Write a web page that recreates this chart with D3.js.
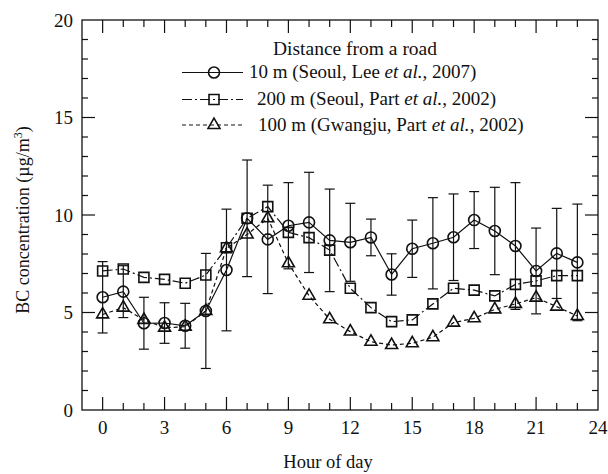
<!DOCTYPE html>
<html>
<head>
<meta charset="utf-8">
<script src="https://cdn.jsdelivr.net/npm/d3@7"></script>
<style>
  body { margin: 0; background: #fff; }
  svg { font-family: "Liberation Serif", "Times New Roman", "DejaVu Serif", serif; }
</style>
</head>
<body>
<div id="chart"></div>
<script>
// data
const hours = d3.range(0, 24);
const seoulLee = [5.78, 6.07, 4.45, 4.46, 4.32, 5.08, 7.18, 9.83, 8.75, 9.45, 9.62, 8.70,
                  8.60, 8.85, 6.95, 8.27, 8.55, 8.86, 9.74, 9.18, 8.41, 7.13, 8.03, 7.57];
const seoulLeeErr = [1.83, 1.33, 1.33, 1.04, 1.15, 2.95, 3.12, 2.99, 2.78, 2.21, 2.57, 2.63,
                     2.00, 0.94, 1.06, 1.47, 2.34, 2.22, 1.46, 2.24, 3.25, 2.20, 2.31, 2.99];
const seoulPart = [7.13, 7.23, 6.80, 6.70, 6.50, 6.92, 8.32, 9.83, 10.43, 9.11, 8.84, 8.20,
                   6.24, 5.25, 4.53, 4.62, 5.44, 6.24, 6.15, 5.85, 6.44, 6.62, 6.89, 6.89];
const gwangjuPart = [4.90, 5.25, 4.62, 4.22, 4.27, 5.08, 8.29, 9.00, 9.83, 7.52, 5.86, 4.65,
                     4.02, 3.50, 3.33, 3.42, 3.73, 4.48, 4.70, 5.16, 5.44, 5.76, 5.30, 4.82];
const xTickLabels = [0, 3, 6, 9, 12, 15, 18, 21, 24];
const yTickLabels = [0, 5, 10, 15, 20];

const width = 608, height = 474;
const svg = d3.select("#chart").append("svg")
    .attr("width", width)
    .attr("height", height);

const x = d3.scaleLinear().domain([-1, 24]).range([82, 598]);
const y = d3.scaleLinear().domain([0, 20]).range([410, 20]);

const ink = "#111";

// frame
svg.append("rect")
    .attr("x", x(-1)).attr("y", y(20))
    .attr("width", x(24) - x(-1)).attr("height", y(0) - y(20))
    .attr("fill", "none").attr("stroke", ink).attr("stroke-width", 1.3);

// inward ticks on all four sides
const xMinor = d3.range(0, 24);
const yMinor = d3.range(1, 20);
const ticks = svg.append("g").attr("stroke", ink).attr("stroke-width", 1.2);
xMinor.forEach(h => {
    const len = h % 3 === 0 ? 13 : 7;
    ticks.append("line").attr("x1", x(h)).attr("x2", x(h)).attr("y1", y(0)).attr("y2", y(0) - len);
    ticks.append("line").attr("x1", x(h)).attr("x2", x(h)).attr("y1", y(20)).attr("y2", y(20) + len);
});
yMinor.forEach(v => {
    const len = v % 5 === 0 ? 13 : 6;
    ticks.append("line").attr("x1", x(-1)).attr("x2", x(-1) + len).attr("y1", y(v)).attr("y2", y(v));
    ticks.append("line").attr("x1", x(24)).attr("x2", x(24) - len).attr("y1", y(v)).attr("y2", y(v));
});

// tick labels
svg.append("g").selectAll("text")
    .data(xTickLabels)
    .join("text")
    .attr("x", d => x(d))
    .attr("y", 434)
    .attr("text-anchor", "middle")
    .attr("font-size", 19)
    .attr("fill", ink)
    .text(d => d);

svg.append("g").selectAll("text")
    .data(yTickLabels)
    .join("text")
    .attr("x", 73)
    .attr("y", d => y(d) + 6.5)
    .attr("text-anchor", "end")
    .attr("font-size", 19)
    .attr("fill", ink)
    .text(d => d);

// axis titles
svg.append("text")
    .attr("x", 328).attr("y", 468)
    .attr("text-anchor", "middle")
    .attr("font-size", 18.5)
    .attr("fill", ink)
    .text("Hour of day");

const yTitle = svg.append("text")
    .attr("transform", "translate(29,220) rotate(-90)")
    .attr("text-anchor", "middle")
    .attr("font-size", 18)
    .attr("fill", ink);
yTitle.append("tspan").text("BC concentration (\u00b5g/m");
yTitle.append("tspan").attr("dy", -7).attr("font-size", 12).text("3");
yTitle.append("tspan").attr("dy", 7).text(")");

// series
const series = [
    { name: "lee", values: seoulLee, dash: null, symbol: d3.symbolCircle, size: 95 },
    { name: "part", values: seoulPart, dash: "10,3,2,3", symbol: d3.symbolSquare, size: 100 },
    { name: "gwangju", values: gwangjuPart, dash: "4,3", symbol: d3.symbolTriangle, size: 62 }
];

// error bars for the 10 m series
const err = svg.append("g").attr("stroke", ink).attr("stroke-width", 1.2);
hours.forEach((h, i) => {
    const lo = seoulLee[i] - seoulLeeErr[i], hi = seoulLee[i] + seoulLeeErr[i];
    err.append("line").attr("x1", x(h)).attr("x2", x(h)).attr("y1", y(lo)).attr("y2", y(hi));
    err.append("line").attr("x1", x(h) - 5).attr("x2", x(h) + 5).attr("y1", y(lo)).attr("y2", y(lo));
    err.append("line").attr("x1", x(h) - 5).attr("x2", x(h) + 5).attr("y1", y(hi)).attr("y2", y(hi));
});

const line = d3.line()
    .x((d, i) => x(hours[i]))
    .y(d => y(d));

series.forEach(s => {
    svg.append("path")
        .attr("class", "line " + s.name)
        .attr("d", line(s.values))
        .attr("fill", "none")
        .attr("stroke", ink)
        .attr("stroke-width", 1.2)
        .attr("stroke-dasharray", s.dash);

    svg.append("g").selectAll("path")
        .data(s.values)
        .join("path")
        .attr("transform", (d, i) => `translate(${x(hours[i])},${y(d)})`)
        .attr("d", d3.symbol().type(s.symbol).size(s.size))
        .attr("fill", "none")
        .attr("stroke", ink)
        .attr("stroke-width", 1.6);
});

// legend
const legend = svg.append("g").attr("fill", ink).attr("font-size", 19);
legend.append("text")
    .attr("x", 355).attr("y", 55)
    .attr("text-anchor", "middle")
    .attr("font-size", 19.5)
    .text("Distance from a road");

const legendRows = [
    { s: series[0], y: 72.5, tx: 249, label: ["10 m (Seoul, Lee ", "et al.", ", 2007)"] },
    { s: series[1], y: 99.5, tx: 257, label: ["200 m (Seoul, Part ", "et al.", ", 2002)"] },
    { s: series[2], y: 125, tx: 258, label: ["100 m (Gwangju, Part ", "et al.", ", 2002)"] }
];
legendRows.forEach(r => {
    legend.append("line")
        .attr("x1", 182).attr("x2", 243).attr("y1", r.y).attr("y2", r.y)
        .attr("stroke", ink).attr("stroke-width", 1.2)
        .attr("stroke-dasharray", r.s.dash);
    legend.append("path")
        .attr("transform", `translate(214,${r.y})`)
        .attr("d", d3.symbol().type(r.s.symbol).size(r.s.size))
        .attr("fill", "none").attr("stroke", ink).attr("stroke-width", 1.6);
    const t = legend.append("text").attr("x", r.tx).attr("y", r.y + 5.5);
    t.append("tspan").text(r.label[0]);
    t.append("tspan").attr("font-style", "italic").text(r.label[1]);
    t.append("tspan").text(r.label[2]);
});
</script>
</body>
</html>
